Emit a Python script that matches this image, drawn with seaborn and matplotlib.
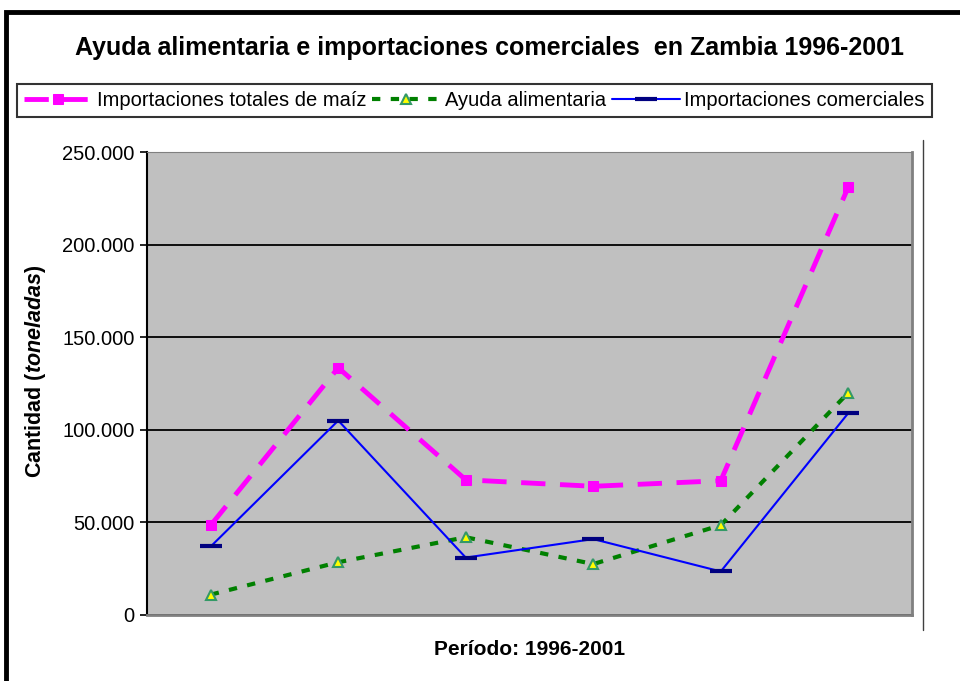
import pandas as pd
import matplotlib
import matplotlib.pyplot as plt
import seaborn as sns
from matplotlib.patches import Rectangle
from matplotlib.lines import Line2D
from matplotlib.ticker import FuncFormatter

# data (toneladas)
years = [1996, 1997, 1998, 1999, 2000, 2001]
importaciones_totales = [48500, 133500, 73000, 69500, 72500, 231000]
ayuda_alimentaria = [11000, 28500, 42000, 27500, 48500, 120000]
importaciones_comerciales = [37000, 105000, 31000, 41000, 23500, 109000]

sns.set_style("white")
plt.rcParams['font.family'] = ['Liberation Sans', 'DejaVu Sans']
plt.rcParams['text.color'] = 'black'
plt.rcParams['axes.labelcolor'] = 'black'
plt.rcParams['ytick.color'] = 'black'
plt.rcParams['mathtext.fontset'] = 'custom'
plt.rcParams['mathtext.bf'] = 'Liberation Sans:bold'
plt.rcParams['mathtext.it'] = 'Liberation Sans:italic'
try:
    plt.rcParams['mathtext.bfit'] = 'Liberation Sans:bold:italic'
except KeyError:
    pass

fig = plt.figure(figsize=(9.6, 6.81), dpi=100)
ax = fig.add_axes([147/960, 1 - 615/681, (912 - 147)/960, (615 - 152)/681])
ax.set_facecolor('#C0C0C0')

xpos = list(range(len(years)))

sns.lineplot(x=xpos, y=importaciones_totales, ax=ax, color='#FF00FF', lw=3.5,
             marker='s', markersize=7, markeredgecolor='#FF00FF',
             dashes=(5, 3), label='Importaciones totales de maíz', zorder=3)
sns.lineplot(x=xpos, y=ayuda_alimentaria, ax=ax, color='#008000', lw=3,
             marker='^', markersize=7, markerfacecolor='#FFFF00',
             markeredgecolor='#339966', markeredgewidth=1.5,
             dashes=(2, 2.5), label='Ayuda alimentaria', zorder=3)
sns.lineplot(x=xpos, y=importaciones_comerciales, ax=ax, color='#0000FF', lw=1.5,
             marker='_', markersize=16, markeredgecolor='#000080',
             markeredgewidth=3, label='Importaciones comerciales', zorder=3)

ax.set_xlim(-0.5, 5.5)
ax.set_ylim(0, 250000)
ax.set_yticks(range(0, 250001, 50000))
ax.yaxis.set_major_formatter(FuncFormatter(lambda v, p: f"{int(v):,}".replace(',', '.')))
ax.set_xticks([])
ax.grid(axis='y', color='black', lw=1.3)
ax.set_axisbelow(True)
ax.tick_params(axis='y', labelsize=14.5, length=5, width=1.2, direction='out', left=True, pad=4)
for s in ['top', 'right']:
    ax.spines[s].set_color('#808080')
ax.spines['bottom'].set_color('#808080')
ax.spines['bottom'].set_linewidth(2)
ax.spines['right'].set_linewidth(2)
ax.spines['left'].set_color('black')
ax.spines['left'].set_linewidth(1.5)

ax.set_ylabel(r'$\mathbf{Cantidad\ (}\mathbfit{toneladas}\mathbf{)}$', fontsize=15.5)
ax.yaxis.set_label_coords(-0.129, 0.527)
ax.set_xlabel('Período: 1996-2001', fontsize=15, fontweight='bold', labelpad=18)

ax.get_legend().remove()
handles, labels = ax.get_legend_handles_labels()
leg = fig.legend(handles, labels, loc='upper left', bbox_to_anchor=(17/960, 1 - 84/681),
                 ncol=3, frameon=True, fancybox=False, edgecolor='black',
                 fontsize=14.5, handlelength=3.4, columnspacing=0.3, handletextpad=0.2,
                 borderpad=0.35, borderaxespad=0)
leg.get_frame().set_linewidth(1.5)

fig.text(0.51, 1 - 48/681, 'Ayuda alimentaria e importaciones comerciales  en Zambia 1996-2001',
         ha='center', va='center', fontsize=18, fontweight='bold')

# outer chart frame
fig.patches.append(Rectangle((6/960, -0.1), 1.1, 1 - 12/681 + 0.1, transform=fig.transFigure,
                             fill=False, edgecolor='black', lw=3.5))
fig.lines.append(Line2D([923/960, 923/960], [1 - 140/681, 1 - 630/681],
                        transform=fig.transFigure, color='#404040', lw=1))

fig.savefig('out.png', dpi=100)
